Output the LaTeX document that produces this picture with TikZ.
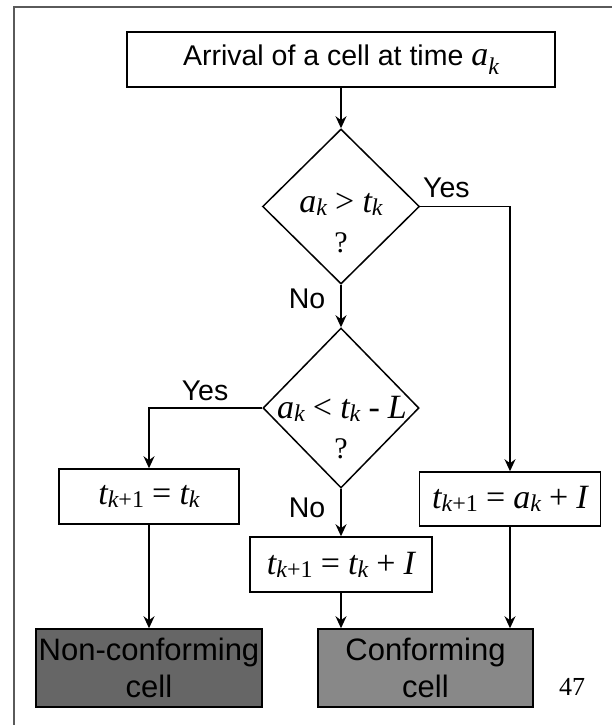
\documentclass[tikz,border=0pt]{standalone}
\usepackage{fontspec}
\setmainfont{Liberation Sans}
\newfontfamily\tms{Liberation Serif}
\usetikzlibrary{shapes.geometric,arrows.meta}
\definecolor{framegray}{HTML}{5A5A5A}
\definecolor{darkfill}{HTML}{666666}
\definecolor{lightfill}{HTML}{888888}
\newcommand\msz{\tms\fontsize{34}{36}\selectfont}
\newcommand\vv[1]{{\msz\itshape #1}}
\newcommand\sbs[1]{\raisebox{-0.3em}{\tms\fontsize{24}{24}\selectfont #1}}
\newcommand\op[1]{{\msz\upshape\hspace{0.24em}#1\hspace{0.24em}}}
\begin{document}
\begin{tikzpicture}[x=1pt,y=-1pt,
  box/.style={draw, line width=1.5pt, inner sep=0pt, align=center},
  decision/.style={draw, diamond, line width=1.5pt, inner sep=0pt},
  conn/.style={line width=1.5pt, -{Stealth[length=12pt,width=11pt]}},
  lbl/.style={inner sep=0pt, font=\fontsize{28.5}{30}\selectfont},
  mtxt/.style={inner sep=0pt, anchor=base},
  endbox/.style={box, font=\fontsize{31}{37}\selectfont}]
\useasboundingbox (0,0) rectangle (612,725);
\draw[framegray, line width=2pt] (612,7) -- (14,7) -- (14,725);

\node[box, minimum width=428pt, minimum height=55pt, font=\fontsize{28.5}{30}\selectfont] (arr) at (341,59.5)
  {Arrival of a cell at time \vv{a}\sbs{\itshape k}};

\node[decision, minimum width=157pt, minimum height=155pt] (d1) at (341,206.5) {};
\node[mtxt] (d1t) at (341,212) {\vv{a}\sbs{\itshape k}\op{>}\vv{t}\sbs{\itshape k}};
\node[mtxt] (d1q) at (341,252) {\tms\fontsize{30}{30}\selectfont ?};

\node[decision, minimum width=156pt, minimum height=160pt] (d2) at (341,408) {};
\node[mtxt] (d2t) at (342,418) {\vv{a}\sbs{\itshape k}\op{<}\vv{t}\sbs{\itshape k}\op{-}\vv{L}};
\node[mtxt] (d2q) at (341,458) {\tms\fontsize{30}{30}\selectfont ?};

\node[lbl, anchor=base west] (yes1) at (423,197) {Yes};
\node[lbl, anchor=base] (no1) at (307,308) {No};
\node[lbl, anchor=base] (yes2) at (205,400) {Yes};
\node[lbl, anchor=base] (no2) at (307,517) {No};

\node[box, minimum width=180pt, minimum height=55pt] (lb) at (149,496.5)
  {\vv{t}\sbs{\itshape k\upshape+1}\op{=}\vv{t}\sbs{\itshape k}};
\node[box, minimum width=181pt, minimum height=54pt] (rb) at (510,499)
  {\vv{t}\sbs{\itshape k\upshape+1}\op{=}\vv{a}\sbs{\itshape k}\op{+}\vv{I}};
\node[box, minimum width=182pt, minimum height=55pt] (mb) at (341,564.5)
  {\vv{t}\sbs{\itshape k\upshape+1}\op{=}\vv{t}\sbs{\itshape k}\op{+}\vv{I}};

\node[endbox, fill=darkfill, minimum width=226pt, minimum height=78pt] (nc) at (149,668)
  {Non-conforming\\cell};
\node[endbox, fill=lightfill, minimum width=215pt, minimum height=78pt] (cf) at (425.5,668)
  {Conforming\\cell};

\node[mtxt] (pg) at (572,695) {\tms\fontsize{26}{26}\selectfont 47};

\draw[conn] (arr.south) -- (d1.north);
\draw[conn] (d1.south) -- (d2.north);
\draw[conn] (d1.east) -| (rb.north);
\draw[conn] (d2.west) -| (lb.north);
\draw[conn] (d2.south) -- (mb.north);
\draw[conn] (lb.south) -- (nc.north);
\draw[conn] (mb.south) -- (mb.south |- cf.north);
\draw[conn] (rb.south) -- (rb.south |- cf.north);
\end{tikzpicture}
\end{document}
